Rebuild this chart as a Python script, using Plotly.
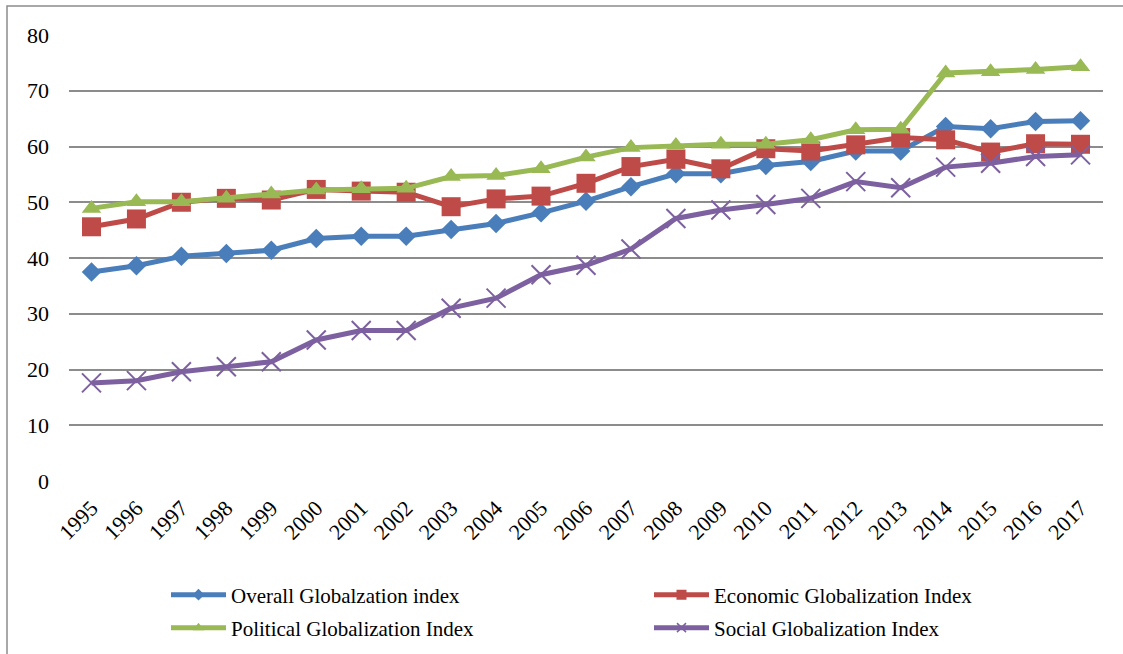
import plotly.graph_objects as go

years = [str(y) for y in range(1995, 2018)]
overall = [37.5, 38.6, 40.3, 40.8, 41.4, 43.5, 43.9, 43.9, 45.1, 46.2, 48.1, 50.2, 52.8, 55.1, 55.1, 56.6,
           57.3, 59.2, 59.2, 63.6, 63.2, 64.5, 64.6]
economic = [45.6, 47.0, 50.0, 50.7, 50.4, 52.3, 52.0, 51.8, 49.2, 50.6, 51.1, 53.4, 56.4, 57.7, 56.0, 59.6,
            59.2, 60.3, 61.6, 61.2, 59.0, 60.5, 60.4]
political = [48.9, 50.1, 50.1, 50.7, 51.5, 52.2, 52.4, 52.5, 54.6, 54.8, 56.0, 58.1, 59.8, 60.2, 60.4, 60.4,
             61.2, 63.0, 63.1, 73.2, 73.4, 73.8, 74.3]
social = [17.6, 18.0, 19.6, 20.5, 21.4, 25.3, 27.0, 27.0, 31.0, 32.8, 37.0, 38.7, 41.6, 47.1, 48.6, 49.6,
          50.7, 53.7, 52.6, 56.3, 57.0, 58.2, 58.5]

names = ["Overall Globalzation index", "Economic Globalization Index",
         "Political Globalization Index", "Social Globalization Index"]
colors = ["#4A7EBB", "#BE4B48", "#98B954", "#7D60A0"]
symbols = ["diamond", "square", "triangle-up", "x-thin"]
sizes = [15, 19, 17, 19]
legend_sizes = [9, 10, 10, 9]
legends = ["legend", "legend2", "legend3", "legend4"]

FONT = "Liberation Serif"
W, H = 1123, 664
PL, PT, PW, PH = 69, 35, 1034, 446

def px_x(x):
    return (x - PL) / PW

def px_y(y):
    return (PT + PH - y) / PH

fig = go.Figure()
for vals, name, col, sym, sz, lsz, lg in zip([overall, economic, political, social], names, colors,
                                              symbols, sizes, legend_sizes, legends):
    marker = dict(symbol=sym, size=sz, color=col)
    lmarker = dict(symbol=sym, size=lsz, color=col)
    if sym == "x-thin":
        marker["line"] = dict(color=col, width=2)
        lmarker["line"] = dict(color=col, width=1.5)
    else:
        marker["line"] = dict(width=0)
        lmarker["line"] = dict(width=0)
    fig.add_trace(go.Scatter(x=list(range(len(years))), y=vals, name=name, mode="lines+markers",
                             line=dict(color=col, width=5), marker=marker, showlegend=False))
    # legend-only entry with the smaller legend symbol
    fig.add_trace(go.Scatter(x=[None], y=[None], name=name, mode="lines+markers",
                             line=dict(color=col, width=5), marker=lmarker, legend=lg,
                             showlegend=True, hoverinfo="skip"))

leg_common = dict(orientation="h", xanchor="left", yanchor="middle", itemwidth=55,
                  font=dict(family=FONT, size=21, color="black"), bgcolor="rgba(0,0,0,0)")

fig.update_layout(
    width=W, height=H,
    margin=dict(l=PL, r=W - PL - PW, t=PT, b=H - PT - PH),
    paper_bgcolor="white", plot_bgcolor="white",
    font=dict(family=FONT, color="black"),
    xaxis=dict(tickmode="array", tickvals=list(range(len(years))), ticktext=years,
               range=[-0.5, len(years) - 0.5], tickangle=-45, showgrid=False,
               tickfont=dict(family=FONT, size=22, color="black"),
               zeroline=False, showline=False, ticks="", ticklabelstandoff=9),
    yaxis=dict(range=[0, 80], dtick=10, showgrid=True, gridcolor="#8C8C8C", gridwidth=2,
               tickfont=dict(family=FONT, size=22, color="black"),
               zeroline=False, showline=False, ticks="", ticklabelstandoff=19),
    legend=dict(x=px_x(166), y=px_y(595), **leg_common),
    legend2=dict(x=px_x(649), y=px_y(595), **leg_common),
    legend3=dict(x=px_x(166), y=px_y(628), **leg_common),
    legend4=dict(x=px_x(649), y=px_y(628), **leg_common),
    showlegend=True,
)

fig.add_shape(type="rect", xref="paper", yref="paper",
              x0=px_x(7), x1=px_x(1140), y0=px_y(680), y1=px_y(6),
              line=dict(color="#8C8C8C", width=1.5), layer="below")

fig.write_html("out.html", config={"displayModeBar": False},
               post_script="document.body.style.margin='0';document.body.style.padding='0';")
